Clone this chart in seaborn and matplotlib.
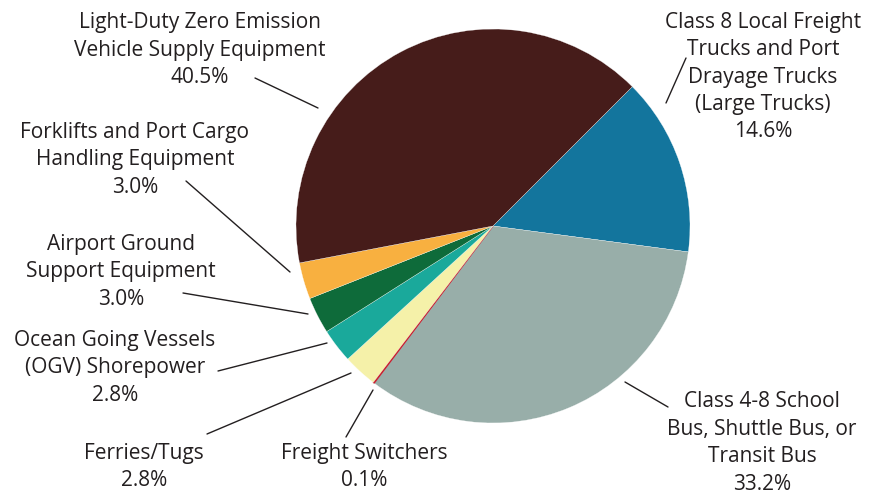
import matplotlib
matplotlib.use("Agg")
import matplotlib.pyplot as plt
import seaborn as sns

# ---- data (clockwise from the top-right) ----
categories = [
    "Class 8 Local Freight\nTrucks and Port\nDrayage Trucks\n(Large Trucks)",
    "Class 4-8 School\nBus, Shuttle Bus, or\nTransit Bus",
    "Freight Switchers",
    "Ferries/Tugs",
    "Ocean Going Vessels\n(OGV) Shorepower",
    "Airport Ground\nSupport Equipment",
    "Forklifts and Port Cargo\nHandling Equipment",
    "Light-Duty Zero Emission\nVehicle Supply Equipment",
]
shares = [14.6, 33.2, 0.1, 2.8, 2.8, 3.0, 3.0, 40.5]
colors = ["#13759d", "#98aea9", "#c8202f", "#f5f1a9",
          "#1aa99b", "#0e6b3a", "#f8b040", "#461c1a"]

# label text centres and leader-line endpoints (pixel coords, y from top)
label_pos = [(763, 77), (762, 443), (364, 467), (144, 467),
             (115, 368), (121, 272), (135, 160), (200, 50)]
leaders = [((686, 58), (666, 103)),
           ((668, 407), (625, 382)),
           ((346, 437), (373, 390)),
           ((207, 434), (351, 373)),
           ((218, 371), (327, 343)),
           ((183, 293), (308, 314)),
           ((186, 181), (290, 272)),
           ((255, 78), (318, 108))]

W, H = 878, 496
sns.set_theme(style="white")
plt.rcParams["font.family"] = ["Open Sans", "DejaVu Sans"]

fig = plt.figure(figsize=(W / 100, H / 100), dpi=100)
ax = fig.add_axes([0, 0, 1, 1])

def fy(y):
    return H - y

wedges, _ = ax.pie(shares, colors=colors, startangle=45, counterclock=False,
                   center=(493, fy(226)), radius=197,
                   wedgeprops=dict(edgecolor="white", linewidth=0.2))
wedges[2].set_edgecolor(colors[2])
wedges[2].set_linewidth(0.8)

ax.set_xlim(0, W)
ax.set_ylim(0, H)
ax.set_aspect("equal")
ax.axis("off")

txt_color = "#231f20"
for cat, val, (x, y) in zip(categories, shares, label_pos):
    ax.text(x, fy(y), f"{cat}\n{val:.1f}%", ha="center", va="center",
            fontsize=15, color=txt_color, linespacing=1.4)

for (p1, p2) in leaders:
    ax.plot([p1[0], p2[0]], [fy(p1[1]), fy(p2[1])], color=txt_color, lw=1.0)

fig.savefig("out.png", dpi=100, facecolor="white")
